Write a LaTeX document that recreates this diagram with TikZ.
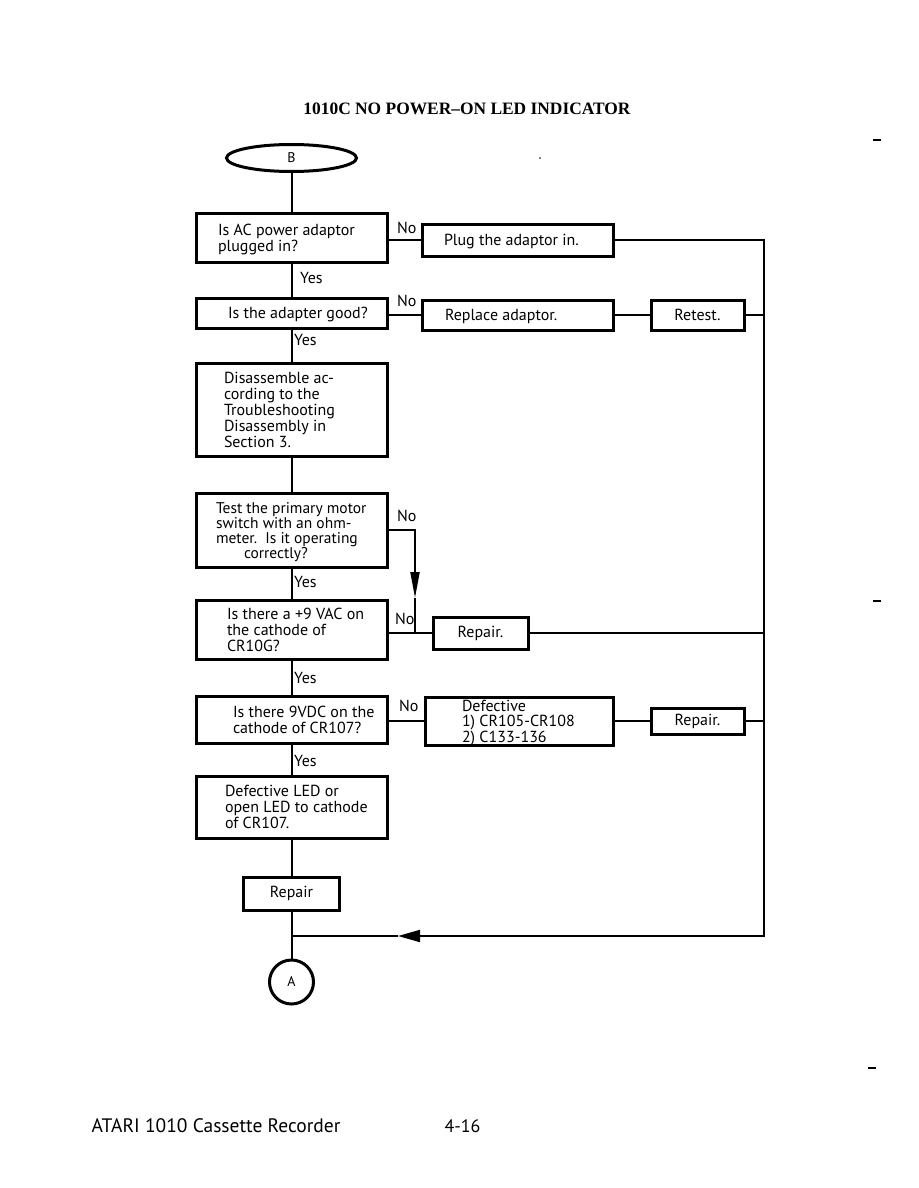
\documentclass[tikz,border=0pt]{standalone}
\usepackage{fontspec}
\setmainfont{PT Sans}
\newfontfamily\titlefont{Liberation Serif}
\usetikzlibrary{arrows.meta,shapes.geometric}
\newcommand\boxtext[3]{\raisebox{-2.5pt}[\height][\depth]{\makebox[#1pt][l]{\hspace*{#2pt}\begin{tabular}{@{}l@{}}#3\end{tabular}}}}
\begin{document}
\begin{tikzpicture}[x=1pt,y=-1pt,
  txt/.style={font=\fontsize{16}{15.5}\selectfont},
  box/.style={draw, line width=3pt, inner ysep=0pt, inner xsep=3pt, txt},
  lbox/.style={box, minimum width=#1pt},
  cbox/.style={box, minimum width=#1pt, align=center},
  conn/.style={line width=2pt},
  lbl/.style={txt, inner sep=0pt},
  scanmark/.style={line width=1.2pt}
]
\useasboundingbox (0,0) rectangle (918,1188);
\fill[white] (0,0) rectangle (918,1188);

% title
\node[font=\titlefont\bfseries\fontsize{17.4}{19}\selectfont] (title) at (467,109) {1010C NO POWER–ON LED INDICATOR};

% terminals
\node[ellipse, draw, line width=3pt, minimum width=130pt, minimum height=27pt, inner sep=0pt, font=\fontsize{14}{15}\selectfont] (B) at (291.5,158) {B};
\node[circle, draw, line width=3pt, minimum size=44pt, inner sep=0pt, font=\fontsize{14}{15}\selectfont] (A) at (291.5,982) {A};

% left column
\node[lbox=191, minimum height=49pt] (q1) at (291.5,237.5) {\boxtext{185}{19}{Is AC power adaptor\\plugged in?}};
\node[lbox=191, minimum height=30pt] (q2) at (291.5,313) {\boxtext{185}{29}{Is the adapter good?}};
\node[lbox=191, minimum height=93pt] (q3) at (291.5,409.5) {\boxtext{185}{25}{Disassemble ac-\\cording to the\\Troubleshooting\\Disassembly in\\Section 3.}};
\node[lbox=191, minimum height=74pt, font=\fontsize{15.5}{13}\selectfont] (q4) at (291.5,530) {\boxtext{185}{17}{Test the primary motor\\switch with an ohm-\\meter.\ \ Is it operating\\\hspace*{28pt}correctly?}};
\node[lbox=191, minimum height=59pt] (q5) at (291.5,629.5) {\boxtext{185}{28}{Is there a +9 VAC on\\the cathode of\\CR10G?}};
\node[lbox=191, minimum height=47pt] (q6) at (291.5,719.5) {\boxtext{185}{34}{Is there 9VDC on the\\cathode of CR107?}};
\node[lbox=191, minimum height=62pt] (q7) at (291.5,807) {\boxtext{185}{26}{Defective LED or\\open LED to cathode\\of CR107.}};
\node[cbox=96, minimum height=33pt] (r3) at (291.5,893.5) {Repair};

% right side
\node[lbox=191, minimum height=32pt] (a1) at (517.5,240) {\boxtext{185}{19}{Plug the adaptor in.}};
\node[lbox=191, minimum height=30pt] (a2) at (517.5,315) {\boxtext{185}{20}{Replace adaptor.}};
\node[cbox=93, minimum height=30pt] (rt1) at (697.5,315) {Retest.};
\node[cbox=95, minimum height=32pt] (r1) at (480.5,633) {Repair.};
\node[lbox=188, minimum height=48pt, font=\fontsize{16}{14.5}\selectfont] (d1) at (519,721) {\boxtext{182}{34}{Defective\\1) CR105-CR108\\2) C133-136}};
\node[cbox=93, minimum height=26pt] (r2) at (697.5,721) {Repair.};

% junction coordinates
\coordinate (rb) at (764,936);
\coordinate (tb) at (398,936);
\coordinate (jn) at (291.5,936);
\coordinate (ta) at (415,598);
\coordinate (j) at (415,633);

% spine
\draw[conn] (B) -- (q1);
\draw[conn] (q1) -- (q2);
\draw[conn] (q2) -- (q3);
\draw[conn] (q3) -- (q4);
\draw[conn] (q4) -- (q5);
\draw[conn] (q5) -- (q6);
\draw[conn] (q6) -- (q7);
\draw[conn] (q7) -- (r3);
\draw[conn] (r3) -- (A);

% branches
\draw[conn] (a1.west -| q1.east) -- (a1.west);
\draw[conn] (a2.west -| q2.east) -- (a2.west);
\draw[conn] (a2) -- (rt1);
\draw[conn] (r1.west -| q5.east) -- (r1.west);
\draw[conn] (d1.west -| q6.east) -- (d1.west);
\draw[conn] (d1) -- (r2);
\draw[conn, -{Triangle[length=26pt,width=9pt]}] (q4.east) -| (ta);
\draw[conn] (ta) -- (j);

% return rail
\draw[conn, -{Triangle[length=22pt,width=12pt]}] (a1.east) -| (rb) -- (tb);
\draw[conn] (tb) -- (jn);
\draw[conn] (rt1.east) -- (rt1.east -| rb);
\draw[conn] (r1.east) -- (r1.east -| rb);
\draw[conn] (r2.east) -- (r2.east -| rb);

% labels
\node[lbl, anchor=west] (n1) at (397,228) {No};
\node[lbl, anchor=west] (n2) at (397,301) {No};
\node[lbl, anchor=west] (n3) at (397,516) {No};
\node[lbl, anchor=west] (n4) at (395,619) {No};
\node[lbl, anchor=west] (n5) at (399,706) {No};
\node[lbl, anchor=west] (y1) at (300,278) {Yes};
\node[lbl, anchor=west] (y2) at (294,340) {Yes};
\node[lbl, anchor=west] (y3) at (294,582) {Yes};
\node[lbl, anchor=west] (y4) at (294,678) {Yes};
\node[lbl, anchor=west] (y5) at (294,761) {Yes};

% footer
\node[anchor=west, font=\fontsize{19.5}{21}\selectfont] (ft) at (88,1126) {ATARI 1010 Cassette Recorder};
\node[anchor=west, font=\fontsize{18}{20}\selectfont] (pg) at (441,1126) {4-16};

% scan marks
\draw[scanmark] (873,140) -- (881,140);
\draw[scanmark] (873,601) -- (881,601);
\draw[scanmark] (868,1068) -- (876,1068);
\fill (540,158) circle (0.8pt);
\end{tikzpicture}
\end{document}
